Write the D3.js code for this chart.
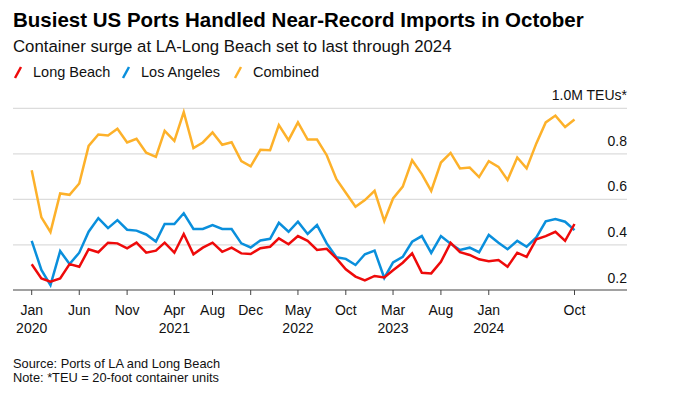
<!DOCTYPE html>
<html>
<head>
<meta charset="utf-8">
<script src="https://cdn.jsdelivr.net/npm/d3@7"></script>
<style>
  body { margin: 0; background: #fff; }
  svg { display: block; font-family: "Liberation Sans", Arial, sans-serif; }
</style>
</head>
<body>
<svg id="chart" width="685" height="396"></svg>
<script>
// Monthly TEUs (millions), Jan 2020 .. Oct 2024
const startMonth = new Date(2020, 0, 1);
const longBeach = [
  0.315, 0.253, 0.239, 0.253, 0.316, 0.304, 0.381, 0.368, 0.410, 0.407, 0.385, 0.410,
  0.366, 0.375, 0.410, 0.366, 0.448, 0.359, 0.388, 0.410, 0.370, 0.388, 0.363, 0.360,
  0.386, 0.392, 0.429, 0.403, 0.439, 0.418, 0.378, 0.383, 0.341, 0.293, 0.261, 0.244,
  0.264, 0.257, 0.289, 0.322, 0.363, 0.278, 0.275, 0.326, 0.409, 0.368, 0.356, 0.337,
  0.329, 0.334, 0.304, 0.366, 0.348, 0.425, 0.439, 0.458, 0.418, 0.492
];
const losAngeles = [
  0.418, 0.290, 0.224, 0.373, 0.316, 0.366, 0.458, 0.518, 0.474, 0.509, 0.467, 0.463,
  0.446, 0.415, 0.492, 0.492, 0.539, 0.470, 0.470, 0.487, 0.470, 0.470, 0.407, 0.389,
  0.420, 0.427, 0.497, 0.458, 0.502, 0.448, 0.487, 0.407, 0.346, 0.339, 0.312, 0.359,
  0.375, 0.255, 0.323, 0.348, 0.414, 0.439, 0.365, 0.439, 0.405, 0.378, 0.388, 0.368,
  0.444, 0.410, 0.381, 0.418, 0.392, 0.433, 0.504, 0.514, 0.502, 0.465
];
const combined = [
  0.728, 0.521, 0.457, 0.626, 0.620, 0.670, 0.835, 0.885, 0.881, 0.910, 0.850, 0.866,
  0.805, 0.787, 0.901, 0.857, 0.983, 0.825, 0.850, 0.894, 0.840, 0.851, 0.768, 0.745,
  0.818, 0.816, 0.926, 0.860, 0.938, 0.863, 0.863, 0.794, 0.689, 0.629, 0.568, 0.597,
  0.638, 0.505, 0.604, 0.656, 0.772, 0.711, 0.637, 0.762, 0.804, 0.736, 0.740, 0.698,
  0.768, 0.743, 0.685, 0.784, 0.736, 0.846, 0.938, 0.968, 0.918, 0.951
];

const series = [
  { name: "Combined",    values: combined,   color: "#fdb12a" },
  { name: "Los Angeles", values: losAngeles, color: "#0a8fdc" },
  { name: "Long Beach",  values: longBeach,  color: "#ee0a0a" }
];
const legendOrder = ["Long Beach", "Los Angeles", "Combined"];

const yTicks = [0.2, 0.4, 0.6, 0.8, 1.0];
const xTicks = [
  [2020, 0, "Jan", "2020"], [2020, 5, "Jun", ""], [2020, 10, "Nov", ""],
  [2021, 3, "Apr", "2021"], [2021, 7, "Aug", ""], [2021, 11, "Dec", ""],
  [2022, 4, "May", "2022"], [2022, 9, "Oct", ""], [2023, 2, "Mar", "2023"],
  [2023, 7, "Aug", ""], [2024, 0, "Jan", "2024"], [2024, 9, "Oct", ""]
];

const svg = d3.select("#chart");
const months = d3.timeMonth.range(startMonth, d3.timeMonth.offset(startMonth, combined.length));

const plotLeft = 13, plotRight = 627;
const x = d3.scaleTime()
  .domain([months[0], months[months.length - 1]])
  .range([31.7, 574.5]);
const y = d3.scaleLinear().domain([0.2, 1.0]).range([290.5, 108.3]);

// Title block
svg.append("text").attr("x", 13).attr("y", 27)
  .attr("font-size", 20.5).attr("font-weight", "bold").attr("fill", "#000")
  .text("Busiest US Ports Handled Near-Record Imports in October");
svg.append("text").attr("x", 13).attr("y", 52)
  .attr("font-size", 16.8).attr("fill", "#111")
  .text("Container surge at LA-Long Beach set to last through 2024");

// Legend
const legendX = [14, 122, 234];
legendOrder.forEach((name, i) => {
  const s = series.find(d => d.name === name);
  const g = svg.append("g").attr("transform", `translate(${legendX[i]},0)`);
  g.append("line").attr("x1", 1).attr("y1", 78).attr("x2", 7).attr("y2", 67)
    .attr("stroke", s.color).attr("stroke-width", 2.5);
  g.append("text").attr("x", 19).attr("y", 76.5)
    .attr("font-size", 14.5).attr("fill", "#111").text(name);
});

// Gridlines
svg.append("g").selectAll("line")
  .data(yTicks.filter(t => t > 0.2))
  .join("line")
  .attr("x1", plotLeft).attr("x2", plotRight)
  .attr("y1", d => y(d)).attr("y2", d => y(d))
  .attr("stroke", "#dcdcdc").attr("stroke-width", 1.2);

// Y labels sit above their gridline, right aligned
svg.append("g").selectAll("text")
  .data(yTicks)
  .join("text")
  .attr("x", plotRight).attr("y", d => y(d) - 8)
  .attr("text-anchor", "end").attr("font-size", 14).attr("fill", "#111")
  .text(d => d === 1.0 ? "1.0M TEUs*" : d3.format(".1f")(d));

// Lines
const line = d3.line()
  .x((d, i) => x(months[i]))
  .y(d => y(d));
svg.append("g").selectAll("path")
  .data(series)
  .join("path")
  .attr("d", d => line(d.values))
  .attr("fill", "none")
  .attr("stroke", d => d.color)
  .attr("stroke-width", 2.5)
  .attr("stroke-linejoin", "miter");

// X axis
const axisY = 290;
svg.append("line").attr("x1", plotLeft).attr("x2", plotRight)
  .attr("y1", axisY).attr("y2", axisY)
  .attr("stroke", "#444").attr("stroke-width", 1.2);
const tickG = svg.append("g").selectAll("g")
  .data(xTicks)
  .join("g")
  .attr("transform", d => `translate(${x(new Date(d[0], d[1], 1))},${axisY})`);
tickG.append("line").attr("y1", 0).attr("y2", 5).attr("stroke", "#444").attr("stroke-width", 1);
tickG.append("text").attr("y", 25).attr("text-anchor", "middle")
  .attr("font-size", 14).attr("fill", "#111").text(d => d[2]);
tickG.append("text").attr("y", 43).attr("text-anchor", "middle")
  .attr("font-size", 14).attr("fill", "#111").text(d => d[3]);

// Footer
svg.append("text").attr("x", 13).attr("y", 368)
  .attr("font-size", 12.8).attr("fill", "#111").text("Source: Ports of LA and Long Beach");
svg.append("text").attr("x", 13).attr("y", 382)
  .attr("font-size", 12.8).attr("fill", "#111").text("Note: *TEU = 20-foot container units");
</script>
</body>
</html>
